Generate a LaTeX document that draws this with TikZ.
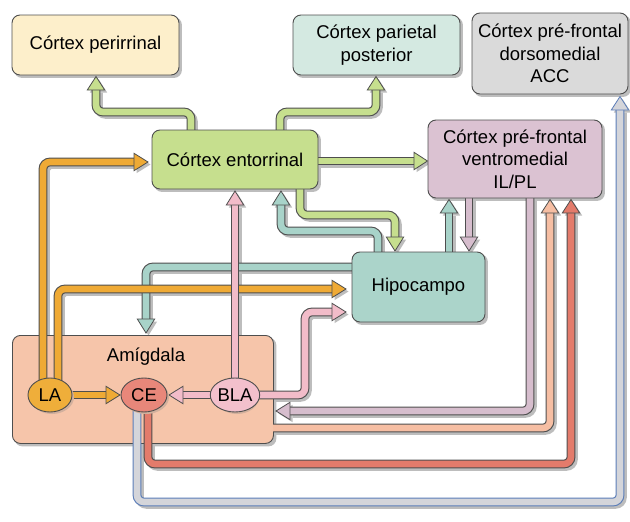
\documentclass[tikz,border=0pt]{standalone}
\usepackage{fontspec}
\setmainfont{Liberation Sans}
\usetikzlibrary{calc,shapes.geometric}
\pgfdeclarelayer{shadow}
\pgfsetlayers{shadow,main}
\definecolor{edgec}{HTML}{4E4E4E}
\definecolor{shc}{HTML}{BDBDBD}
\definecolor{cperi}{HTML}{FDEFCB}
\definecolor{cpar}{HTML}{D4E9E1}
\definecolor{cdm}{HTML}{DADADA}
\definecolor{cent}{HTML}{C6DF8E}
\definecolor{cvm}{HTML}{DBC2D2}
\definecolor{chip}{HTML}{ABD4CA}
\definecolor{camy}{HTML}{F6C5AA}
\definecolor{cla}{HTML}{EFAE3A}
\definecolor{cce}{HTML}{E8877A}
\definecolor{cbla}{HTML}{F3C0CC}
\definecolor{bgreen}{HTML}{C6DF8E}
\definecolor{bteal}{HTML}{A8D3C9}
\definecolor{bpink}{HTML}{F2BCC9}
\definecolor{borange}{HTML}{EFAA35}
\definecolor{bmauve}{HTML}{D6BDCD}
\definecolor{bpeach}{HTML}{F6BEA3}
\definecolor{bred}{HTML}{E37B6B}
\definecolor{bgray}{HTML}{D4D5DA}
\definecolor{bblue}{HTML}{5B7DB8}
\tikzset{
  box/.style={draw=edgec, line width=0.9, rounded corners=8, align=center,
    font=\fontsize{18.5}{22.5}\selectfont, inner sep=0},
  nucleus/.style={ellipse, draw=edgec, line width=0.9, inner sep=0,
    minimum height=34, font=\fontsize{18.5}{22.5}\selectfont},
  shadowtf/.style={transform canvas={shift={(2.5,2.5)}}}
}
\newcommand\boxshadow[1]{\begin{pgfonlayer}{shadow}
  \fill[shc, rounded corners=8, shadowtf] (#1.south west) rectangle (#1.north east);
  \end{pgfonlayer}}
\newcommand\band[3][edgec]{%
  \begin{pgfonlayer}{shadow}\draw[shc, line width=8.5, rounded corners=7, shadowtf] #3;\end{pgfonlayer}
  \draw[#1, line width=8.8, rounded corners=7] #3;
  \draw[#2, line width=6.6, rounded corners=7] #3;}
\newcommand\tip[4][edgec]{%
  \begin{pgfonlayer}{shadow}\fill[shc, shadowtf] (#4) -- ($(#3)!8.7pt!90:(#4)$) -- ($(#3)!8.7pt!-90:(#4)$) -- cycle;\end{pgfonlayer}
  \filldraw[fill=#2, draw=#1, line width=0.8, line join=miter] (#4) -- ($(#3)!8.7pt!90:(#4)$) -- ($(#3)!8.7pt!-90:(#4)$) -- cycle;}
\begin{document}
\begin{tikzpicture}[x=1pt, y=-1pt]
\useasboundingbox (0,0) rectangle (630,522);
% amygdala container
\node[box, fill=camy, minimum width=261, minimum height=108, anchor=north west] (amy) at (12,335) {};
\boxshadow{amy}
\node[font=\fontsize{18.5}{22.5}\selectfont] (amylab) at (146,357) {Amígdala};
% positions of the boxes
\path (95.5,45) coordinate (peripos) (376.5,45) coordinate (parpos)
      (550,53.5) coordinate (dmpos) (235,159.5) coordinate (entpos)
      (515,159) coordinate (vmpos) (418.5,287) coordinate (hippos);
% ---- connectors ----
% Hipocampo -> CE (teal)
\coordinate (c9s) at (353,267); \coordinate (c9b) at (146,319); \coordinate (c9t) at (146,333);
\band{bteal}{(c9s) -| (c9b)} \tip{bteal}{c9b}{c9t}
% LA -> Hipocampo (orange)
\coordinate (c11s) at (58,385); \coordinate (c11b) at (332,289); \coordinate (c11t) at (346,289);
\band{borange}{(c11s) |- (c11b)} \tip{borange}{c11b}{c11t}
% LA -> entorrinal (orange)
\coordinate (c10s) at (43,385); \coordinate (c10b) at (134,162); \coordinate (c10t) at (148,162);
\band{borange}{(c10s) |- (c10b)} \tip{borange}{c10b}{c10t}
% BLA -> entorrinal (pink)
\coordinate (c6s) at (235,385); \coordinate (c6b) at (235,205); \coordinate (c6t) at (235,191);
\band{bpink}{(c6s) -- (c6b)} \tip{bpink}{c6b}{c6t}
% BLA -> Hipocampo (pink)
\coordinate (c12s) at (250,395); \coordinate (c12b) at (332,312); \coordinate (c12t) at (346,312);
\band{bpink}{(c12s) -| (305,312) -- (c12b)} \tip{bpink}{c12b}{c12t}
% LA -> CE (orange)
\coordinate (c13s) at (65,395); \coordinate (c13b) at (106,395); \coordinate (c13t) at (120,395);
\band{borange}{(c13s) -- (c13b)} \tip{borange}{c13b}{c13t}
% BLA -> CE (pink)
\coordinate (c14s) at (220,395); \coordinate (c14b) at (183,395); \coordinate (c14t) at (169,395);
\band{bpink}{(c14s) -- (c14b)} \tip{bpink}{c14b}{c14t}
% entorrinal -> perirrinal (green)
\coordinate (c1s) at (191,133); \coordinate (c1b) at (96,90); \coordinate (c1t) at (96,76.5);
\band{bgreen}{(c1s) |- (96,112) -- (c1b)} \tip{bgreen}{c1b}{c1t}
% entorrinal -> parietal (green)
\coordinate (c2s) at (280,133); \coordinate (c2b) at (376,90); \coordinate (c2t) at (376,76.5);
\band{bgreen}{(c2s) |- (376,112) -- (c2b)} \tip{bgreen}{c2b}{c2t}
% entorrinal -> vmPFC (green)
\coordinate (c3s) at (314,161); \coordinate (c3b) at (414,161); \coordinate (c3t) at (427.5,161);
\band{bgreen}{(c3s) -- (c3b)} \tip{bgreen}{c3b}{c3t}
% entorrinal -> Hipocampo (green)
\coordinate (c4s) at (300,186); \coordinate (c4b) at (395,237); \coordinate (c4t) at (395,251);
\band{bgreen}{(c4s) |- (395,215) -- (c4b)} \tip{bgreen}{c4b}{c4t}
% Hipocampo -> entorrinal (teal)
\coordinate (c5s) at (378,255); \coordinate (c5b) at (281,205); \coordinate (c5t) at (281,191);
\band{bteal}{(c5s) |- (281,231) -- (c5b)} \tip{bteal}{c5b}{c5t}
% Hipocampo -> vmPFC (teal)
\coordinate (c7s) at (449,255); \coordinate (c7b) at (449,213); \coordinate (c7t) at (449,199.5);
\band{bteal}{(c7s) -- (c7b)} \tip{bteal}{c7b}{c7t}
% vmPFC -> Hipocampo (mauve)
\coordinate (c8s) at (469,195); \coordinate (c8b) at (469,237); \coordinate (c8t) at (469,251);
\band{bmauve}{(c8s) -- (c8b)} \tip{bmauve}{c8b}{c8t}
% vmPFC -> amygdala (mauve)
\coordinate (c15s) at (530,195); \coordinate (c15b) at (290,411); \coordinate (c15t) at (276,411);
\band{bmauve}{(c15s) |- (c15b)} \tip{bmauve}{c15b}{c15t}
% amygdala -> vmPFC (peach)
\coordinate (c16s) at (273,428); \coordinate (c16b) at (550,213); \coordinate (c16t) at (550,199.5);
\band{bpeach}{(c16s) -| (c16b)} \tip{bpeach}{c16b}{c16t}
% CE -> vmPFC (red)
\coordinate (c17s) at (148,405); \coordinate (c17b) at (571,213); \coordinate (c17t) at (571,199.5);
\band{bred}{(c17s) |- (571,464) -- (c17b)} \tip{bred}{c17b}{c17t}
% CE -> dmPFC (gray/blue)
\coordinate (c18s) at (137,405); \coordinate (c18b) at (620,110); \coordinate (c18t) at (620,96.5);
\band[bblue]{bgray}{(c18s) |- (620,502) -- (c18b)} \tip[bblue]{bgray}{c18b}{c18t}
% ---- boxes ----
\node[box, fill=cperi, minimum width=167, minimum height=60] (peri) at (peripos) {Córtex perirrinal};
\node[box, fill=cpar, minimum width=167, minimum height=60] (par) at (parpos) {Córtex parietal\\posterior};
\node[box, fill=cdm, minimum width=156, minimum height=81] (dm) at (dmpos) {Córtex pré-frontal\\dorsomedial\\ACC};
\node[box, fill=cent, minimum width=166, minimum height=59] (ent) at (entpos) {Córtex entorrinal};
\node[box, fill=cvm, minimum width=174, minimum height=78] (vm) at (vmpos) {Córtex pré-frontal\\ventromedial\\IL/PL};
\node[box, fill=chip, minimum width=133, minimum height=70] (hip) at (hippos) {Hipocampo};
\boxshadow{peri}\boxshadow{par}\boxshadow{dm}\boxshadow{ent}\boxshadow{vm}\boxshadow{hip}
% ---- nuclei ----
\fill[camy!70!gray, transform canvas={shift={(2,2)}}] (50,395) ellipse [x radius=22, y radius=17]
  (144,395) ellipse [x radius=23, y radius=17] (235,395) ellipse [x radius=22, y radius=17];
\node[nucleus, fill=cla, minimum width=44] (la) at (50,395) {LA};
\node[nucleus, fill=cce, minimum width=46] (ce) at (144,395) {CE};
\node[nucleus, fill=cbla, minimum width=44] (bla) at (235,395) {BLA};
\end{tikzpicture}
\end{document}
